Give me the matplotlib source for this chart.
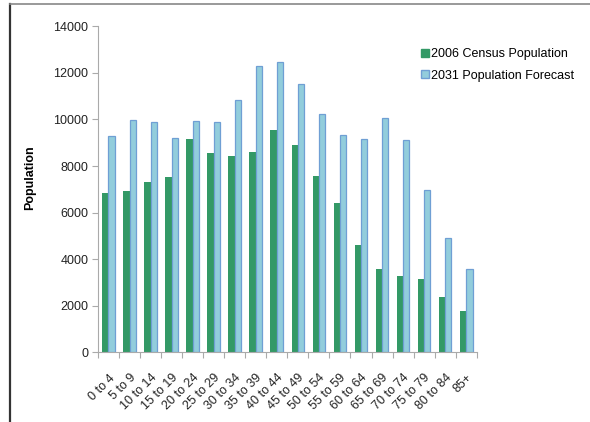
import numpy as np
import matplotlib
matplotlib.use('Agg')
import matplotlib.pyplot as plt
from matplotlib.lines import Line2D

plt.rcParams['font.family'] = ['Liberation Sans', 'DejaVu Sans']

# Grupos de edad y poblaciones
age_groups = ['0 to 4', '5 to 9', '10 to 14', '15 to 19', '20 to 24', '25 to 29',
              '30 to 34', '35 to 39', '40 to 44', '45 to 49', '50 to 54', '55 to 59',
              '60 to 64', '65 to 69', '70 to 74', '75 to 79', '80 to 84', '85+']
census_2006 = [6850, 6930, 7310, 7540, 9180, 8540, 8440, 8590, 9530, 8920,
               7560, 6400, 4630, 3570, 3280, 3140, 2390, 1790]
forecast_2031 = [9280, 9970, 9900, 9220, 9940, 9900, 10850, 12300, 12470, 11500,
                 10220, 9350, 9180, 10080, 9110, 6970, 4900, 3600]

green = '#339966'
blue = '#92CDDC'
blue_edge = '#6F9FD4'

fig = plt.figure(figsize=(5.9, 4.22), dpi=100)
ax = fig.add_axes([0.166, 0.1647, 0.642, 0.7733])

x = np.arange(len(age_groups))
w = 0.30
ax.bar(x - w / 2, census_2006, width=w, color=green, linewidth=0)
ax.bar(x + w / 2, forecast_2031, width=w, color=blue, edgecolor=blue_edge, linewidth=0.9)

ax.set_xlim(-0.5, len(age_groups) - 0.5)
ax.set_ylim(0, 14000)
ax.set_yticks(range(0, 14001, 2000))
ax.set_xticks(np.arange(len(age_groups) + 1) - 0.5, minor=False)
ax.set_xticklabels([])
ax.set_xticks(x, minor=True)
ax.set_xticklabels(age_groups, minor=True, rotation=45, ha='right',
                   rotation_mode='anchor', fontsize=9, color='#222222')
ax.tick_params(axis='x', which='minor', length=0, pad=14)
ax.tick_params(axis='x', which='major', length=4, color='#AAAAAA')
ax.tick_params(axis='y', length=4, color='#AAAAAA', labelsize=9, labelcolor='#222222', pad=3)

for side in ['top', 'right']:
    ax.spines[side].set_visible(False)
for side in ['left', 'bottom']:
    ax.spines[side].set_color('#AAAAAA')

fig.text(30 / 590, 1 - 178 / 422, 'Population', rotation=90, ha='center', va='center',
         fontsize=9, fontweight='bold')

handles = [Line2D([], [], marker='s', linestyle='', markersize=5.5, markerfacecolor=green,
                  markeredgecolor=green),
           Line2D([], [], marker='s', linestyle='', markersize=5.5, markerfacecolor=blue,
                  markeredgecolor=blue_edge)]
fig.legend(handles, ['2006 Census Population', '2031 Population Forecast'],
           loc='upper left', bbox_to_anchor=(0.692, 0.912), frameon=False,
           fontsize=9, handletextpad=0.1, handlelength=0.8, labelspacing=0.75)

# Marco del gráfico
fig.add_artist(Line2D([10 / 590, 10 / 590], [0, 1 - 4 / 422], color='#333333', linewidth=1.6))
fig.add_artist(Line2D([10 / 590, 1], [1 - 4 / 422, 1 - 4 / 422], color='#888888', linewidth=1.2))

fig.savefig('out.png', dpi=100)
